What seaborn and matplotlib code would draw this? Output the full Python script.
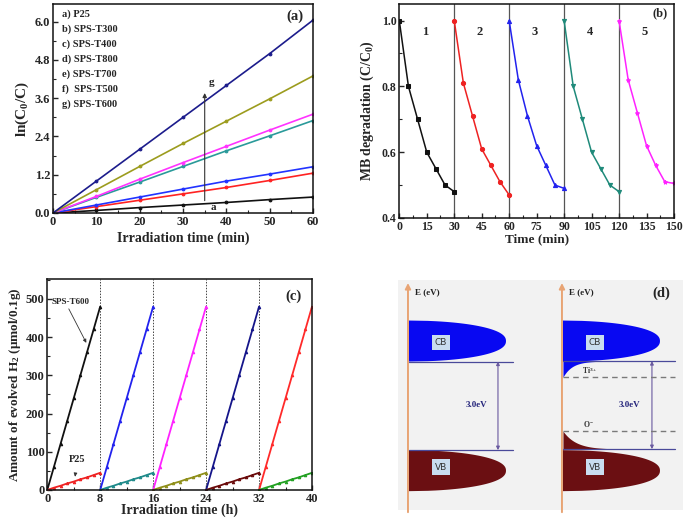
import numpy as np
import seaborn as sns
import matplotlib.pyplot as plt
from matplotlib.ticker import MultipleLocator
from matplotlib.patches import Polygon

# ---------------- panel (a): ln(C0/C) vs irradiation time ----------------
time_a = [0, 10, 20, 30, 40, 50, 60]
samples_a = ['a) P25', 'b) SPS-T300', 'c) SPS-T400', 'd) SPS-T800',
             'e) SPS-T700', 'f)  SPS-T500', 'g) SPS-T600']
lnc_p25 = [0, 0.08, 0.17, 0.25, 0.33, 0.42, 0.50]
lnc_t300 = [0, 0.20, 0.40, 0.60, 0.80, 1.02, 1.25]
lnc_t400 = [0, 0.25, 0.50, 0.75, 1.00, 1.22, 1.45]
lnc_t800 = [0, 0.49, 0.97, 1.46, 1.95, 2.42, 2.90]
lnc_t700 = [0, 0.52, 1.06, 1.58, 2.09, 2.60, 3.10]
lnc_t500 = [0, 0.73, 1.46, 2.18, 2.88, 3.58, 4.30]
lnc_t600 = [0, 1.00, 2.00, 3.00, 4.00, 5.00, 6.05]
colors_a = ['#111111', '#ff2222', '#2233ff', '#2a9a9a', '#ff33ff', '#9c9c1e', '#1c1c8c']

# ---------------- panel (b): MB degradation cycles ----------------
cycle_time_b = [[0, 5, 10, 15, 20, 25, 30],
                [30, 35, 40, 45, 50, 55, 60],
                [60, 65, 70, 75, 80, 85, 90],
                [90, 95, 100, 105, 110, 115, 120],
                [120, 125, 130, 135, 140, 145, 150]]
cycle_ratio_b = [[1.00, 0.80, 0.70, 0.60, 0.55, 0.50, 0.48],
                 [1.00, 0.81, 0.71, 0.61, 0.56, 0.51, 0.47],
                 [1.00, 0.82, 0.71, 0.62, 0.56, 0.50, 0.49],
                 [1.00, 0.80, 0.70, 0.60, 0.55, 0.50, 0.48],
                 [1.00, 0.82, 0.72, 0.62, 0.56, 0.51, 0.505]]
cycle_labels_b = ['1', '2', '3', '4', '5']
colors_b = ['#111111', '#ee2222', '#2222ee', '#1f8a7a', '#ff22ff']
markers_b = ['s', 'o', '^', 'v', '*']

# ---------------- panel (c): H2 evolution cycles ----------------
hours_c = [0, 1, 2, 3, 4, 5, 6, 7, 8]
cycle_start_c = [0, 8, 16, 24, 32]
h2_t600 = [0, 60, 120, 180, 240, 300, 360, 420, 480]
h2_p25 = [0, 6, 11, 17, 22, 28, 33, 39, 45]
colors_t600 = ['#111111', '#2222ee', '#ff22ff', '#15158a', '#ff2a2a']
colors_p25 = ['#ee2222', '#1f8a8a', '#8f8f1a', '#6a0a0a', '#22a022']

sns.set_style('ticks')
plt.rcParams['font.family'] = ['Liberation Serif', 'DejaVu Serif']
plt.rcParams['font.weight'] = 'bold'
plt.rcParams['mathtext.fontset'] = 'custom'
plt.rcParams['mathtext.rm'] = 'Liberation Serif'
plt.rcParams['mathtext.bf'] = 'Liberation Serif:bold'
plt.rcParams['mathtext.it'] = 'Liberation Serif:italic'
plt.rcParams['xtick.direction'] = 'in'
plt.rcParams['ytick.direction'] = 'in'


def style_axes(ax, size=9):
    for s in ax.spines.values():
        s.set_linewidth(1.1)
        s.set_color('#111111')
    ax.tick_params(which='major', length=3.5, width=1, labelsize=size, pad=2)
    ax.tick_params(which='minor', length=2, width=0.8)
    for lab in ax.get_xticklabels() + ax.get_yticklabels():
        lab.set_fontweight('bold')


fig = plt.figure(figsize=(6.85, 5.19), dpi=100)

# ---- (a)
ax_a = fig.add_axes([0.0774, 0.5896, 0.3796, 0.4024])
series_a = [lnc_p25, lnc_t300, lnc_t400, lnc_t800, lnc_t700, lnc_t500, lnc_t600]
for vals, col in zip(series_a, colors_a):
    sns.lineplot(x=time_a, y=vals, ax=ax_a, color=col, marker='o', markersize=2,
                 markeredgecolor=col, linewidth=1.2)
ax_a.set_xlim(0, 60)
ax_a.set_ylim(0, 6.55)
ax_a.xaxis.set_major_locator(MultipleLocator(10))
ax_a.xaxis.set_minor_locator(MultipleLocator(5))
ax_a.yaxis.set_major_locator(MultipleLocator(1.2))
ax_a.yaxis.set_minor_locator(MultipleLocator(0.6))
ax_a.yaxis.set_major_formatter(plt.FormatStrFormatter('%.1f'))
ax_a.set_xlabel('Irradiation time (min)', fontsize=10, fontweight='bold', labelpad=3)
ax_a.set_ylabel(r'$\mathbf{ln(C_0/C)}$', fontsize=11, labelpad=3)
for i, name in enumerate(samples_a):
    ax_a.text(0.033, 0.953 - i * 0.072, name, transform=ax_a.transAxes,
              fontsize=7.5, fontweight='bold', va='center')
ax_a.annotate('', xy=(35, 3.85), xytext=(35, 0.3),
              arrowprops=dict(arrowstyle='-|>', color='#333333', lw=0.8,
                              mutation_scale=6))
ax_a.text(36, 4.0, 'g', fontsize=8, fontweight='bold')
ax_a.text(36.3, 0.1, 'a', fontsize=8, fontweight='bold')
ax_a.text(0.93, 0.94, '(a)', transform=ax_a.transAxes, fontsize=10.5,
          fontweight='bold', ha='center', va='center')
style_axes(ax_a)

# ---- (b)
ax_b = fig.add_axes([0.5829, 0.58, 0.401, 0.412])
for t, r, col, mk in zip(cycle_time_b, cycle_ratio_b, colors_b, markers_b):
    sns.lineplot(x=t, y=r, ax=ax_b, color=col, marker=mk, markersize=3,
                 markeredgecolor=col, linewidth=1.1)
for t in cycle_time_b[1:]:
    ax_b.axvline(t[0], color='#555555', lw=0.9, zorder=0)
for t, lab in zip(cycle_time_b, cycle_labels_b):
    ax_b.text(t[0] + 14, 0.965, lab, fontsize=9, fontweight='bold',
              ha='center', va='center')
ax_b.set_xlim(0, 150)
ax_b.set_ylim(0.4, 1.05)
ax_b.xaxis.set_major_locator(MultipleLocator(15))
ax_b.xaxis.set_minor_locator(MultipleLocator(7.5))
ax_b.yaxis.set_major_locator(MultipleLocator(0.2))
ax_b.yaxis.set_minor_locator(MultipleLocator(0.1))
ax_b.yaxis.set_major_formatter(plt.FormatStrFormatter('%.1f'))
ax_b.set_xlabel('Time (min)', fontsize=9.5, fontweight='bold', labelpad=0.5)
ax_b.set_ylabel(r'MB degradation (C/C$_\mathbf{0}$)', fontsize=10,
                fontweight='bold', labelpad=4)
ax_b.text(0.95, 0.955, '(b)', transform=ax_b.transAxes, fontsize=9,
          fontweight='bold', ha='center', va='center')
style_axes(ax_b, 8.5)

# ---- (c)
ax_c = fig.add_axes([0.069, 0.0559, 0.3865, 0.4065])
for k, st in enumerate(cycle_start_c):
    t = [st + h for h in hours_c]
    sns.lineplot(x=t, y=h2_t600, ax=ax_c, color=colors_t600[k], marker='^',
                 markersize=1.8, markeredgecolor=colors_t600[k], linewidth=1.3)
    sns.lineplot(x=t, y=h2_p25, ax=ax_c, color=colors_p25[k], marker='^',
                 markersize=1.8, markeredgecolor=colors_p25[k], linewidth=1.3)
for st in cycle_start_c[1:]:
    ax_c.axvline(st, color='#444444', lw=0.7, ls=(0, (1.5, 1.5)), zorder=0)
ax_c.set_xlim(0, 40)
ax_c.set_ylim(0, 552)
ax_c.xaxis.set_major_locator(MultipleLocator(8))
ax_c.xaxis.set_minor_locator(MultipleLocator(4))
ax_c.yaxis.set_major_locator(MultipleLocator(100))
ax_c.yaxis.set_minor_locator(MultipleLocator(50))
ax_c.set_xlabel('Irradiation time (h)', fontsize=10, fontweight='bold', labelpad=-1)
ax_c.set_ylabel(r'Amount of evolved H$_\mathbf{2}$ (μmol/0.1g)', fontsize=9.5,
                fontweight='bold', labelpad=2)
ax_c.annotate('SPS-T600', xy=(5.9, 385), xytext=(0.7, 493), fontsize=6.5,
              fontweight='bold', va='center',
              arrowprops=dict(arrowstyle='-|>', color='#333333', lw=0.6,
                              mutation_scale=5, shrinkA=0, shrinkB=0,
                              relpos=(0.4, 0)))
ax_c.annotate('P25', xy=(4.2, 35), xytext=(4.5, 80), fontsize=7.5,
              fontweight='bold', ha='center', va='center',
              arrowprops=dict(arrowstyle='-|>', color='#333333', lw=0.6,
                              mutation_scale=5, shrinkA=6, shrinkB=0))
ax_c.text(0.93, 0.92, '(c)', transform=ax_c.transAxes, fontsize=10.5,
          fontweight='bold', ha='center', va='center')
style_axes(ax_c)

# ---- (d) band diagram (schematic, pixel-like coordinates)
ax_d = fig.add_axes([0.581, 0.017, 0.416, 0.4435])
ax_d.set_facecolor('#f2f2f2')
ax_d.set_xlim(398, 683)
ax_d.set_ylim(510, 280)
ax_d.set_xticks([])
ax_d.set_yticks([])
for s in ax_d.spines.values():
    s.set_visible(False)

cb_col, vb_col = '#0808f2', '#6b0f12'
band_w, band_h = 97, 20.5
cb_mid, vb_mid = 341, 470.5
cb_edge = {'left': 361.5, 'right': 361}
vb_edge = {'left': 450, 'right': 449}
s = np.linspace(-1, 1, 120)


def band(x0, yc, col):
    xs = x0 + band_w * (1 - np.abs(s) ** 2.3) ** 0.5
    ys = yc + band_h * s
    ax_d.add_patch(Polygon(np.column_stack([np.r_[x0, xs, x0], np.r_[yc - band_h, ys, yc + band_h]]),
                           closed=True, facecolor=col, edgecolor='none', zorder=2))


for x0, key in [(409, 'left'), (563, 'right')]:
    band(x0, cb_mid, cb_col)
    band(x0, vb_mid, vb_col)
    ax_d.annotate('', xy=(x0 - 1, 283), xytext=(x0 - 1, 512),
                  arrowprops=dict(arrowstyle='-|>', color='#e8a474', lw=1.4,
                                  mutation_scale=8, shrinkA=0, shrinkB=0), zorder=4)
    ax_d.text(x0 + 6, 292, 'E (eV)', fontsize=6.5, fontweight='bold',
              va='center', color='#222222')
    ax_d.plot([x0, x0 + 104 if key == 'left' else 675], [cb_edge[key]] * 2,
              color='#4a4a9a', lw=0.9, zorder=3)
    ax_d.plot([x0, x0 + 104 if key == 'left' else 675], [vb_edge[key]] * 2,
              color='#4a4a9a', lw=0.9, zorder=3)
    ax_d.text(x0 + 32, cb_mid + 1.5, 'CB', fontsize=6.5, fontfamily='DejaVu Sans',
              fontweight='normal', ha='center', va='center', color='#333333',
              bbox=dict(boxstyle='square,pad=0.35', facecolor='#c9dcef', edgecolor='none'),
              zorder=5)
    ax_d.text(x0 + 32, vb_mid - 3.5, 'VB', fontsize=6.5, fontfamily='DejaVu Sans',
              fontweight='normal', ha='center', va='center', color='#333333',
              bbox=dict(boxstyle='square,pad=0.35', facecolor='#c9dcef', edgecolor='none'),
              zorder=5)

# gap arrows and labels
for xa, xt, key in [(498, 477, 'left'), (652, 630, 'right')]:
    ax_d.annotate('', xy=(xa, cb_edge[key]), xytext=(xa, vb_edge[key]),
                  arrowprops=dict(arrowstyle='<|-|>', color='#6a5aa0', lw=0.8,
                                  mutation_scale=5, shrinkA=0, shrinkB=0))
    ax_d.text(xt, 405, '3.0eV', fontsize=6.5, fontweight='bold', color='#23237a',
              ha='center', va='center')

# defect tails on the right diagram
tx = np.linspace(563, 620, 80)
ax_d.fill_between(tx, cb_edge['right'], cb_edge['right'] + 16 * np.exp(-(tx - 563) / 9),
                  color=cb_col, lw=0, zorder=2)
ax_d.fill_between(tx, vb_edge['right'], vb_edge['right'] - 18 * np.exp(-(tx - 563) / 13),
                  color=vb_col, lw=0, zorder=2)
ax_d.plot([563, 675], [377, 377], color='#7a7a7a', lw=1.0, ls=(0, (4, 3)), zorder=3)
ax_d.plot([563, 675], [431, 431], color='#7a7a7a', lw=1.0, ls=(0, (4, 3)), zorder=3)
ax_d.text(590, 370, r'Ti$^{3+}$', fontsize=5.5, fontweight='bold', color='#333333',
          ha='center', va='center')
ax_d.text(588, 424, r'O$^{-}$', fontsize=5.5, fontweight='bold', color='#333333',
          ha='center', va='center')
ax_d.text(661, 293, '(d)', fontsize=10.5, fontweight='bold', ha='center', va='center')

fig.savefig('out.png', dpi=100)
